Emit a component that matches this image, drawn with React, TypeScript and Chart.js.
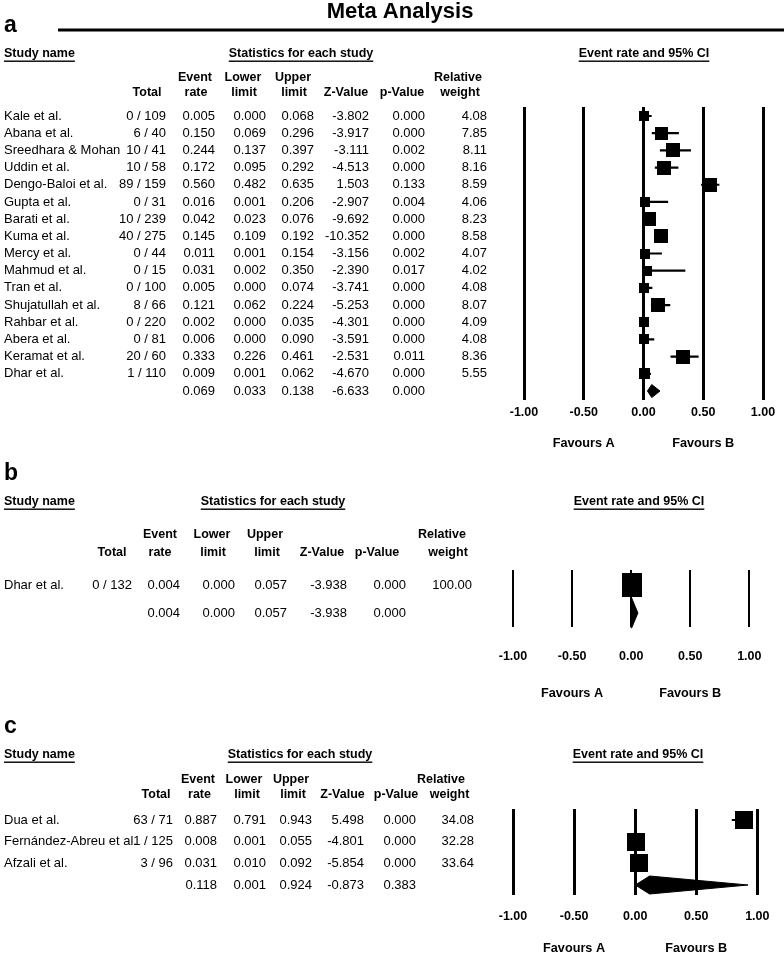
import React, { useEffect, useRef } from 'react';
import { Chart, registerables } from 'chart.js';
Chart.register(...registerables);

const FONT = "'Liberation Sans', Arial, Helvetica, sans-serif";

// ---------------- Panel a data ----------------
const studiesA = ['Kale et al.', 'Abana et al.', 'Sreedhara & Mohan', 'Uddin et al.', 'Dengo-Baloi et al.', 'Gupta et al.', 'Barati et al.', 'Kuma et al.', 'Mercy et al.', 'Mahmud et al.', 'Tran et al.', 'Shujatullah et al.', 'Rahbar et al.', 'Abera et al.', 'Keramat et al.', 'Dhar et al.'];
const eventsA = [0, 6, 10, 10, 89, 0, 10, 40, 0, 0, 0, 8, 0, 0, 20, 1];
const totalsA = [109, 40, 41, 58, 159, 31, 239, 275, 44, 15, 100, 66, 220, 81, 60, 110];
const rateA = [0.005, 0.150, 0.244, 0.172, 0.560, 0.016, 0.042, 0.145, 0.011, 0.031, 0.005, 0.121, 0.002, 0.006, 0.333, 0.009];
const lowerA = [0.000, 0.069, 0.137, 0.095, 0.482, 0.001, 0.023, 0.109, 0.001, 0.002, 0.000, 0.062, 0.000, 0.000, 0.226, 0.001];
const upperA = [0.068, 0.296, 0.397, 0.292, 0.635, 0.206, 0.076, 0.192, 0.154, 0.350, 0.074, 0.224, 0.035, 0.090, 0.461, 0.062];
const zA = [-3.802, -3.917, -3.111, -4.513, 1.503, -2.907, -9.692, -10.352, -3.156, -2.390, -3.741, -5.253, -4.301, -3.591, -2.531, -4.670];
const pA = [0.000, 0.000, 0.002, 0.000, 0.133, 0.004, 0.000, 0.000, 0.002, 0.017, 0.000, 0.000, 0.000, 0.000, 0.011, 0.000];
const weightA = [4.08, 7.85, 8.11, 8.16, 8.59, 4.06, 8.23, 8.58, 4.07, 4.02, 4.08, 8.07, 4.09, 4.08, 8.36, 5.55];
const pooledA = [0.069, 0.033, 0.138, -6.633, 0.000]; // rate, lower, upper, Z, p

// ---------------- Panel b data ----------------
const studiesB = ['Dhar et al.'];
const eventsB = [0];
const totalsB = [132];
const rateB = [0.004];
const lowerB = [0.000];
const upperB = [0.057];
const zB = [-3.938];
const pB = [0.000];
const weightB = [100.00];
const pooledB = [0.004, 0.000, 0.057, -3.938, 0.000];

// ---------------- Panel c data ----------------
const studiesC = ['Dua et al.', 'Fernández-Abreu et al.', 'Afzali et al.'];
const eventsC = [63, 1, 3];
const totalsC = [71, 125, 96];
const rateC = [0.887, 0.008, 0.031];
const lowerC = [0.791, 0.001, 0.010];
const upperC = [0.943, 0.055, 0.092];
const zC = [5.498, -4.801, -5.854];
const pC = [0.000, 0.000, 0.000];
const weightC = [34.08, 32.28, 33.64];
const pooledC = [0.118, 0.001, 0.924, -0.873, 0.383];

// ---------------- Shared labels ----------------
const xTicks = [-1, -0.5, 0, 0.5, 1];
const mainTitle = 'Meta Analysis';
const sectionTitles = ['Study name', 'Statistics for each study', 'Event rate and 95% CI'];
const headerTop = ['Event', 'Lower', 'Upper', 'Relative'];
const headerBottom = ['Total', 'rate', 'limit', 'limit', 'Z-Value', 'p-Value', 'weight'];
const favoursLabels = ['Favours A', 'Favours B'];
const favoursAt = [-0.5, 0.5];

const panelA = { letter: 'a', studies: studiesA, events: eventsA, totals: totalsA, rate: rateA, lower: lowerA, upper: upperA, z: zA, p: pA, weight: weightA, pooled: pooledA };
const panelB = { letter: 'b', studies: studiesB, events: eventsB, totals: totalsB, rate: rateB, lower: lowerB, upper: upperB, z: zB, p: pB, weight: weightB, pooled: pooledB };
const panelC = { letter: 'c', studies: studiesC, events: eventsC, totals: totalsC, rate: rateC, lower: lowerC, upper: upperC, z: zC, p: pC, weight: weightC, pooled: pooledC };

// ---------------- Layout (page pixel coordinates) ----------------
const layoutA = {
  top: 0, height: 455, area: { left: 524, right: 763, top: 107, bottom: 400 },
  firstRow: 116, rowStep: 17.19, letterY: 32, sectionY: 54, statsX: 301, ciX: 644,
  head1Y: 78, head2Y: 93, head1X: [195, 243, 293, 458], head2X: [147, 196, 244, 294, 346, 402, 460],
  colRight: [166, 215, 266, 314, 369, 425, 487], tickY: 413, favoursY: 443,
  gridWidth: 3, maxBox: 14, boxAspect: 1, diamondHalf: 6.5, whiskerWidth: 2.2, title: true,
};
const layoutB = {
  top: 455, height: 250, area: { left: 513, right: 765, top: 570, bottom: 627 },
  firstRow: 585, rowStep: 28, letterY: 480, sectionY: 502, statsX: 273, ciX: 639,
  head1Y: 535, head2Y: 553, head1X: [160, 212, 265, 442], head2X: [112, 160, 213, 267, 322, 377, 448],
  colRight: [132, 180, 235, 287, 347, 406, 472], tickY: 657, favoursY: 693,
  gridWidth: 2, maxBox: 20, boxAspect: 1.2, diamondHalf: 15, whiskerWidth: 2, title: false,
};
const layoutC = {
  top: 705, height: 249, area: { left: 513, right: 765, top: 809, bottom: 895 },
  firstRow: 820, rowStep: 21.67, letterY: 733, sectionY: 755, statsX: 300, ciX: 638,
  head1Y: 780, head2Y: 795, head1X: [198, 244, 291, 441], head2X: [156, 199.5, 247, 293, 342.5, 396, 449.5],
  colRight: [173, 217, 266, 312, 364, 416, 474], tickY: 917, favoursY: 948,
  gridWidth: 3, maxBox: 18, boxAspect: 1, diamondHalf: 9, whiskerWidth: 2.2, title: false,
};

const TICK_SIZE = 12.5;

function makeTextPlugin(d: any, L: any) {
  return {
    id: 'forestText' + d.letter,
    afterDraw(chart: any) {
      const ctx = chart.ctx as CanvasRenderingContext2D;
      const ys = chart.scales.y;
      const xs = chart.scales.x;
      const o = L.top;
      ctx.save();
      ctx.fillStyle = '#000';
      if (L.title) {
        ctx.font = `bold 22px ${FONT}`;
        ctx.textAlign = 'center';
        ctx.textBaseline = 'alphabetic';
        ctx.fillText(mainTitle, 400, 18 - o);
        ctx.fillRect(58, 28.5 - o, 726, 3);
      }
      ctx.font = `bold 23px ${FONT}`;
      ctx.textAlign = 'left';
      ctx.textBaseline = 'alphabetic';
      ctx.fillText(d.letter, 4, L.letterY - o);

      // section titles (underlined)
      ctx.font = `bold 12.5px ${FONT}`;
      ctx.textBaseline = 'middle';
      const secX = [4, L.statsX, L.ciX];
      sectionTitles.forEach((t, i) => {
        const align = i === 0 ? 'left' : 'center';
        ctx.textAlign = align as CanvasTextAlign;
        ctx.fillText(t, secX[i], L.sectionY - o);
        const w = ctx.measureText(t).width;
        const x0 = align === 'center' ? secX[i] - w / 2 : secX[i];
        ctx.fillRect(x0, L.sectionY - o + 6.5, w, 1.4);
      });

      // column headers
      ctx.textAlign = 'center';
      headerTop.forEach((t, i) => ctx.fillText(t, L.head1X[i], L.head1Y - o));
      headerBottom.forEach((t, i) => ctx.fillText(t, L.head2X[i], L.head2Y - o));

      // study rows
      ctx.font = `13px ${FONT}`;
      const n = d.studies.length;
      for (let i = 0; i < n; i++) {
        const y = ys.getPixelForValue(i);
        ctx.textAlign = 'left';
        ctx.fillText(d.studies[i], 4, y);
        ctx.textAlign = 'right';
        const cells = [
          `${d.events[i]} / ${d.totals[i]}`,
          d.rate[i].toFixed(3), d.lower[i].toFixed(3), d.upper[i].toFixed(3),
          d.z[i].toFixed(3), d.p[i].toFixed(3), d.weight[i].toFixed(2),
        ];
        cells.forEach((c, j) => ctx.fillText(c, L.colRight[j], y));
      }
      // pooled row
      const yp = ys.getPixelForValue(n);
      ctx.textAlign = 'right';
      d.pooled.forEach((v: number, j: number) => ctx.fillText(v.toFixed(3), L.colRight[j + 1], yp));

      // favours labels
      ctx.font = `bold 12.7px ${FONT}`;
      ctx.textAlign = 'center';
      favoursLabels.forEach((t, i) => ctx.fillText(t, xs.getPixelForValue(favoursAt[i]), L.favoursY - o));
      ctx.restore();
    },
  };
}

function boxStyle(w: number, h: number) {
  const c = document.createElement('canvas');
  c.width = Math.max(1, Math.round(w));
  c.height = Math.max(1, Math.round(h));
  const g = c.getContext('2d') as CanvasRenderingContext2D;
  g.fillStyle = '#000';
  g.fillRect(0, 0, c.width, c.height);
  return c;
}

function buildChart(canvas: HTMLCanvasElement, d: any, L: any) {
  const n = d.studies.length;
  const ymin = -(L.firstRow - L.area.top) / L.rowStep;
  const ymax = n + (L.area.bottom - (L.firstRow + n * L.rowStep)) / L.rowStep;
  const wmax = Math.max(...d.weight);
  const whiskers: any[] = [];
  d.studies.forEach((_: string, i: number) => {
    whiskers.push({ x: d.lower[i], y: i }, { x: d.upper[i], y: i }, { x: null, y: null });
  });
  const squares = d.rate.map((r: number, i: number) => ({ x: r, y: i }));
  const styles = d.weight.map((w: number) => {
    const side = L.maxBox * Math.sqrt(w / wmax);
    return boxStyle(side, side * L.boxAspect);
  });
  const h = L.diamondHalf / L.rowStep;
  const [pr, pl, pu] = d.pooled;
  const diamond = [
    { x: pl, y: n }, { x: pr, y: n - h }, { x: pu, y: n }, { x: pr, y: n + h }, { x: pl, y: n },
  ];
  const tickPad = L.tickY - L.area.bottom - (TICK_SIZE * 1.2) / 2;

  return new Chart(canvas, {
    type: 'scatter',
    data: {
      datasets: [
        {
          type: 'line', data: whiskers, borderColor: '#000', borderWidth: L.whiskerWidth,
          pointRadius: 0, spanGaps: false, fill: false, order: 3, clip: false,
        } as any,
        {
          type: 'scatter', data: squares, pointStyle: styles, pointRadius: 5,
          pointBackgroundColor: '#000', pointBorderWidth: 0, order: 1, clip: false,
        } as any,
        {
          type: 'line', data: diamond, borderColor: '#000', borderWidth: 1, backgroundColor: '#000',
          fill: 'shape', pointRadius: 0, tension: 0, order: 2, clip: false,
        } as any,
      ],
    },
    options: {
      responsive: false,
      maintainAspectRatio: false,
      devicePixelRatio: 1,
      animation: false,
      events: [],
      layout: { padding: { left: L.area.left, right: 784 - L.area.right, top: L.area.top - L.top, bottom: 0 } },
      plugins: { legend: { display: false }, tooltip: { enabled: false } },
      scales: {
        x: {
          type: 'linear', min: -1, max: 1,
          afterBuildTicks: (s: any) => { s.ticks = xTicks.map((v) => ({ value: v })); },
          afterFit: (s: any) => { s.height = L.top + L.height - L.area.bottom; },
          ticks: {
            callback: (v: any) => Number(v).toFixed(2), color: '#000', padding: tickPad,
            font: { family: FONT, size: TICK_SIZE, weight: 'bold' }, maxRotation: 0, autoSkip: false,
          },
          grid: { color: '#000', lineWidth: L.gridWidth, drawTicks: false },
          border: { display: false },
        },
        y: { type: 'linear', reverse: true, min: ymin, max: ymax, display: false },
      },
    } as any,
    plugins: [makeTextPlugin(d, L)],
  });
}

function ForestPanel({ data, layout }: { data: any; layout: any }) {
  const ref = useRef<HTMLCanvasElement>(null);
  useEffect(() => {
    const chart = buildChart(ref.current as HTMLCanvasElement, data, layout);
    return () => chart.destroy();
  }, []);
  return (
    <canvas
      ref={ref}
      width={784}
      height={layout.height}
      style={{ position: 'absolute', left: 0, top: layout.top, width: 784, height: layout.height }}
    />
  );
}

export default function App() {
  return (
    <div style={{ position: 'absolute', left: 0, top: 0, width: 784, height: 954, background: '#fff', overflow: 'hidden' }}>
      <ForestPanel data={panelA} layout={layoutA} />
      <ForestPanel data={panelB} layout={layoutB} />
      <ForestPanel data={panelC} layout={layoutC} />
    </div>
  );
}
